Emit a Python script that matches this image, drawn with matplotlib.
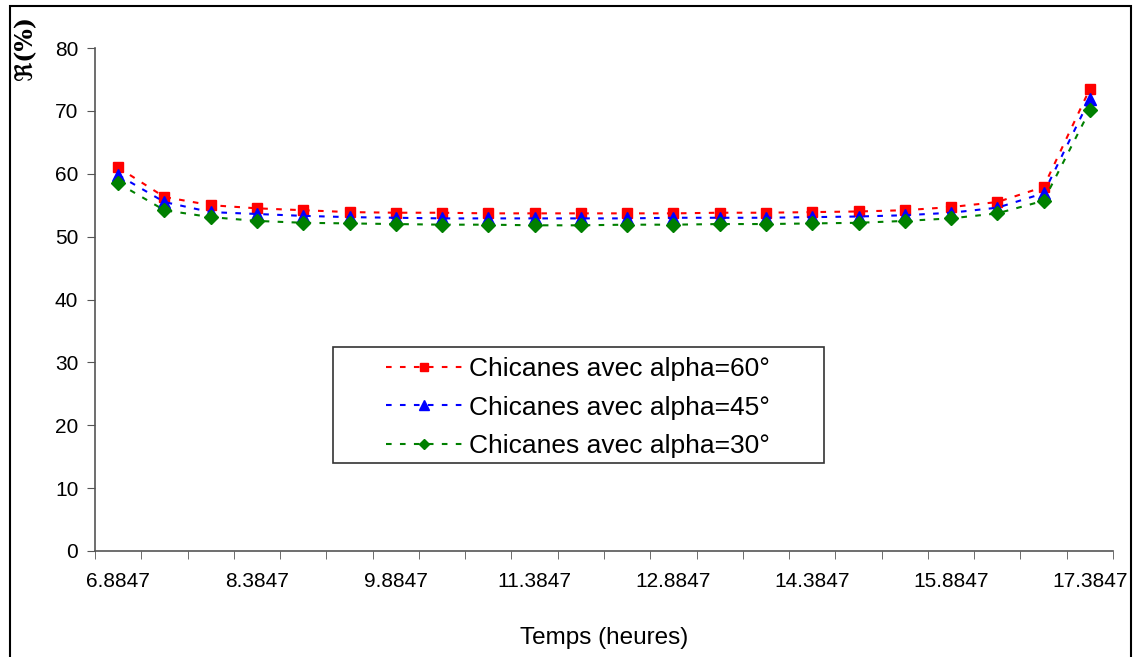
import matplotlib.pyplot as plt
from matplotlib.patches import Rectangle

# hours (category axis, one point every half hour)
hours = ['6.8847', '7.3847', '7.8847', '8.3847', '8.8847', '9.3847', '9.8847', '10.3847',
         '10.8847', '11.3847', '11.8847', '12.3847', '12.8847', '13.3847', '13.8847',
         '14.3847', '14.8847', '15.3847', '15.8847', '16.3847', '16.8847', '17.3847']

alpha60 = [61.0, 56.3, 55.0, 54.5, 54.2, 53.9, 53.8, 53.8, 53.7, 53.7, 53.7,
           53.7, 53.7, 53.8, 53.8, 53.9, 54.0, 54.2, 54.7, 55.5, 57.9, 73.5]
alpha45 = [59.8, 55.5, 53.9, 53.6, 53.3, 53.1, 53.0, 52.9, 52.9, 52.9, 52.9,
           52.9, 53.0, 53.0, 53.0, 53.1, 53.2, 53.4, 53.8, 54.6, 56.9, 71.9]
alpha30 = [58.5, 54.2, 53.1, 52.5, 52.2, 52.1, 52.0, 51.9, 51.9, 51.8, 51.8,
           51.9, 51.9, 52.0, 52.0, 52.1, 52.2, 52.5, 52.9, 53.7, 55.7, 70.1]

labels = ['Chicanes avec alpha=60°', 'Chicanes avec alpha=45°', 'Chicanes avec alpha=30°']
yticks = [0, 10, 20, 30, 40, 50, 60, 70, 80]

plt.rcParams['font.family'] = ['Liberation Sans', 'DejaVu Sans']

W, H = 1138, 657
fig = plt.figure(figsize=(W / 100, H / 100), dpi=100)
ax = fig.add_axes([95 / W, 1 - 551 / H, (1113 - 95) / W, (551 - 48) / H])

x = list(range(len(hours)))
dash = (0, (2.7, 4))
ax.plot(x, alpha60, color='#FF0000', ls=dash, lw=1.5, marker='s', ms=7.5, label=labels[0])
ax.plot(x, alpha45, color='#0000FF', ls=dash, lw=1.5, marker='^', ms=8.5, label=labels[1])
ax.plot(x, alpha30, color='#008000', ls=dash, lw=1.5, marker='D', ms=7, label=labels[2])

ax.set_xlim(-0.5, len(hours) - 0.5)
ax.set_ylim(0, 80)
ax.set_yticks(yticks)
ax.set_xticks(x[::3])
ax.set_xticklabels(hours[::3])
ax.set_xticks([i - 0.5 for i in range(len(hours) + 1)], minor=True)
ax.tick_params(axis='x', which='major', length=0, pad=15, labelsize=15)
ax.tick_params(axis='x', which='minor', length=6, direction='out', color='#555555')
ax.tick_params(axis='y', length=6, direction='out', color='#555555', labelsize=15, pad=6)

for side in ['top', 'right']:
    ax.spines[side].set_visible(False)
for side in ['left', 'bottom']:
    ax.spines[side].set_color('#555555')
    ax.spines[side].set_linewidth(1.2)

ax.set_xlabel('Temps (heures)', fontsize=17.5, labelpad=26)

fig.text(25 / W, 1 - 48 / H, 'ℜ(%)', rotation=90, ha='center', va='center',
         family=['DejaVu Serif', 'DejaVu Sans'], fontweight='bold', fontsize=17)

leg = ax.legend(loc='upper left', bbox_to_anchor=(386 / W, 1 - 357 / H),
                bbox_transform=fig.transFigure, fontsize=19, frameon=False,
                handlelength=2.9, handletextpad=0.25, labelspacing=0.55,
                borderpad=0, borderaxespad=0, markerscale=0.8)

# legend frame, wider than the entries like in the original
fig.patches.append(Rectangle((333 / W, 1 - 463 / H), (824 - 333) / W, (463 - 347) / H,
                             transform=fig.transFigure, fill=False,
                             edgecolor='#333333', lw=1.2))

# outer frame of the chart area
fig.patches.append(Rectangle((10 / W, -0.05), (1131 - 10) / W, 1.05 - 6 / H,
                             transform=fig.transFigure, fill=False,
                             edgecolor='black', lw=1.5))

fig.savefig('out.png', dpi=100)
